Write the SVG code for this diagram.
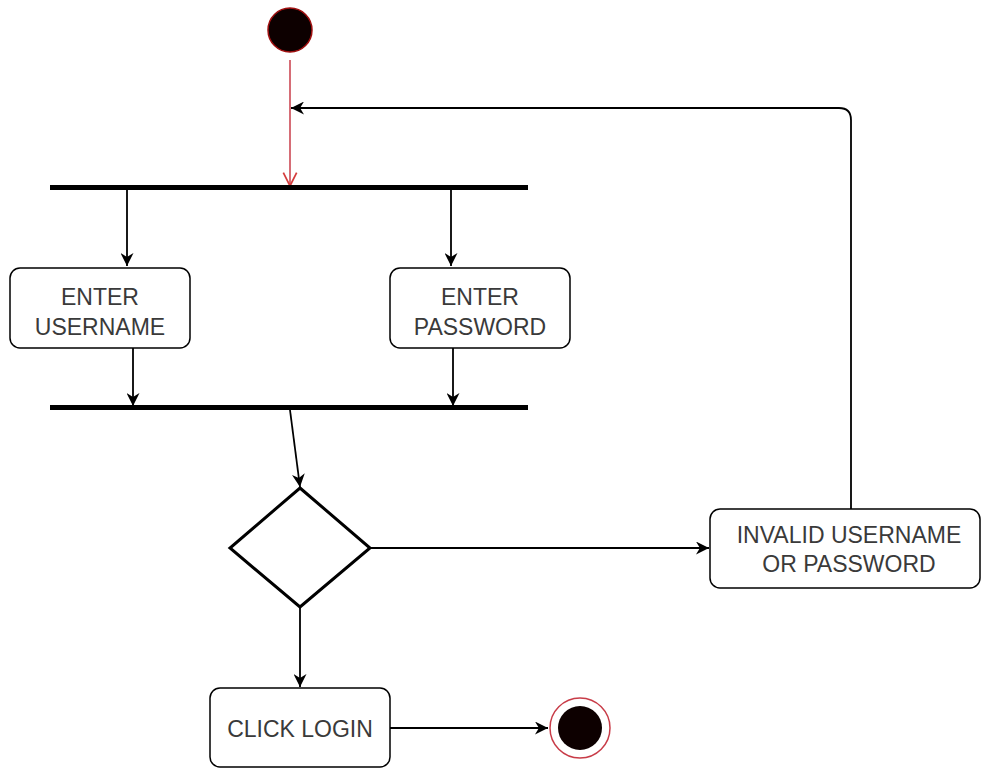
<svg xmlns="http://www.w3.org/2000/svg" width="982" height="770" viewBox="0 0 982 770">
<style>
.box{fill:#fff;stroke:#000;stroke-width:1.5}
.bar{fill:#000}
.lbl{font-family:"Liberation Sans",Arial,sans-serif;font-size:23px;fill:#3a3a3a;text-anchor:middle}
.edge{fill:none;stroke:#000;stroke-width:1.8}
</style>
<defs>
<marker id="arr" viewBox="0 0 10 10" refX="10" refY="5" markerWidth="13" markerHeight="13" markerUnits="userSpaceOnUse" orient="auto">
<path d="M0,0 L10,5 L0,10 L3,5 z" fill="#000"/>
</marker>
<marker id="open" viewBox="0 0 12 12" refX="11" refY="6" markerWidth="16" markerHeight="16" markerUnits="userSpaceOnUse" orient="auto">
<path d="M1,1 L11,6 L1,11" fill="none" stroke="#d43c3c" stroke-width="1.3"/>
</marker>
</defs>
<rect width="982" height="770" fill="#fff"/>
<g id="connectors">
<path d="M290,60 L290,186" stroke="#c83c48" stroke-width="1.5" fill="none" marker-end="url(#open)"/>
<path class="edge" d="M127,190 L127,266" marker-end="url(#arr)"/>
<path class="edge" d="M451,190 L451,266" marker-end="url(#arr)"/>
<path class="edge" d="M133,348 L133,406" marker-end="url(#arr)"/>
<path class="edge" d="M453,348 L453,406" marker-end="url(#arr)"/>
<path class="edge" d="M290,410 L300,487" marker-end="url(#arr)"/>
<path class="edge" d="M371,548 L709,548" marker-end="url(#arr)"/>
<path class="edge" d="M851,509 L851,120 Q851,108 839,108 L291,108" marker-end="url(#arr)"/>
<path class="edge" d="M300,607 L300,687" marker-end="url(#arr)"/>
<path class="edge" d="M390,728 L548,728" marker-end="url(#arr)"/>
</g>
<g id="start">
<circle cx="290" cy="30" r="22" fill="#0d0000" stroke="#a01010" stroke-width="1.5"/>
</g>
<g id="fork">
<rect class="bar" x="50" y="185" width="478" height="5"/>
</g>
<g id="enter-username">
<rect class="box" x="10" y="268" width="180" height="80" rx="10"/>
<text class="lbl" x="100" y="305">ENTER</text>
<text class="lbl" x="100" y="335">USERNAME</text>
</g>
<g id="enter-password">
<rect class="box" x="390" y="268" width="180" height="80" rx="10"/>
<text class="lbl" x="480" y="305">ENTER</text>
<text class="lbl" x="480" y="335">PASSWORD</text>
</g>
<g id="join">
<rect class="bar" x="50" y="405" width="478" height="5"/>
</g>
<g id="decision">
<polygon points="300,488 370,548 300,607 230,548" fill="#fff" stroke="#000" stroke-width="3"/>
</g>
<g id="invalid">
<rect class="box" x="710" y="509" width="270" height="79" rx="10"/>
<text class="lbl" x="849" y="543">INVALID USERNAME</text>
<text class="lbl" x="849" y="572">OR PASSWORD</text>
</g>
<g id="click-login">
<rect class="box" x="210" y="688" width="180" height="79" rx="10"/>
<text class="lbl" x="300" y="737">CLICK LOGIN</text>
</g>
<g id="end">
<circle cx="580" cy="728" r="30" fill="#fff" stroke="#c83c48" stroke-width="1.5"/>
<circle cx="580" cy="728" r="22" fill="#0d0000"/>
</g>
</svg>
